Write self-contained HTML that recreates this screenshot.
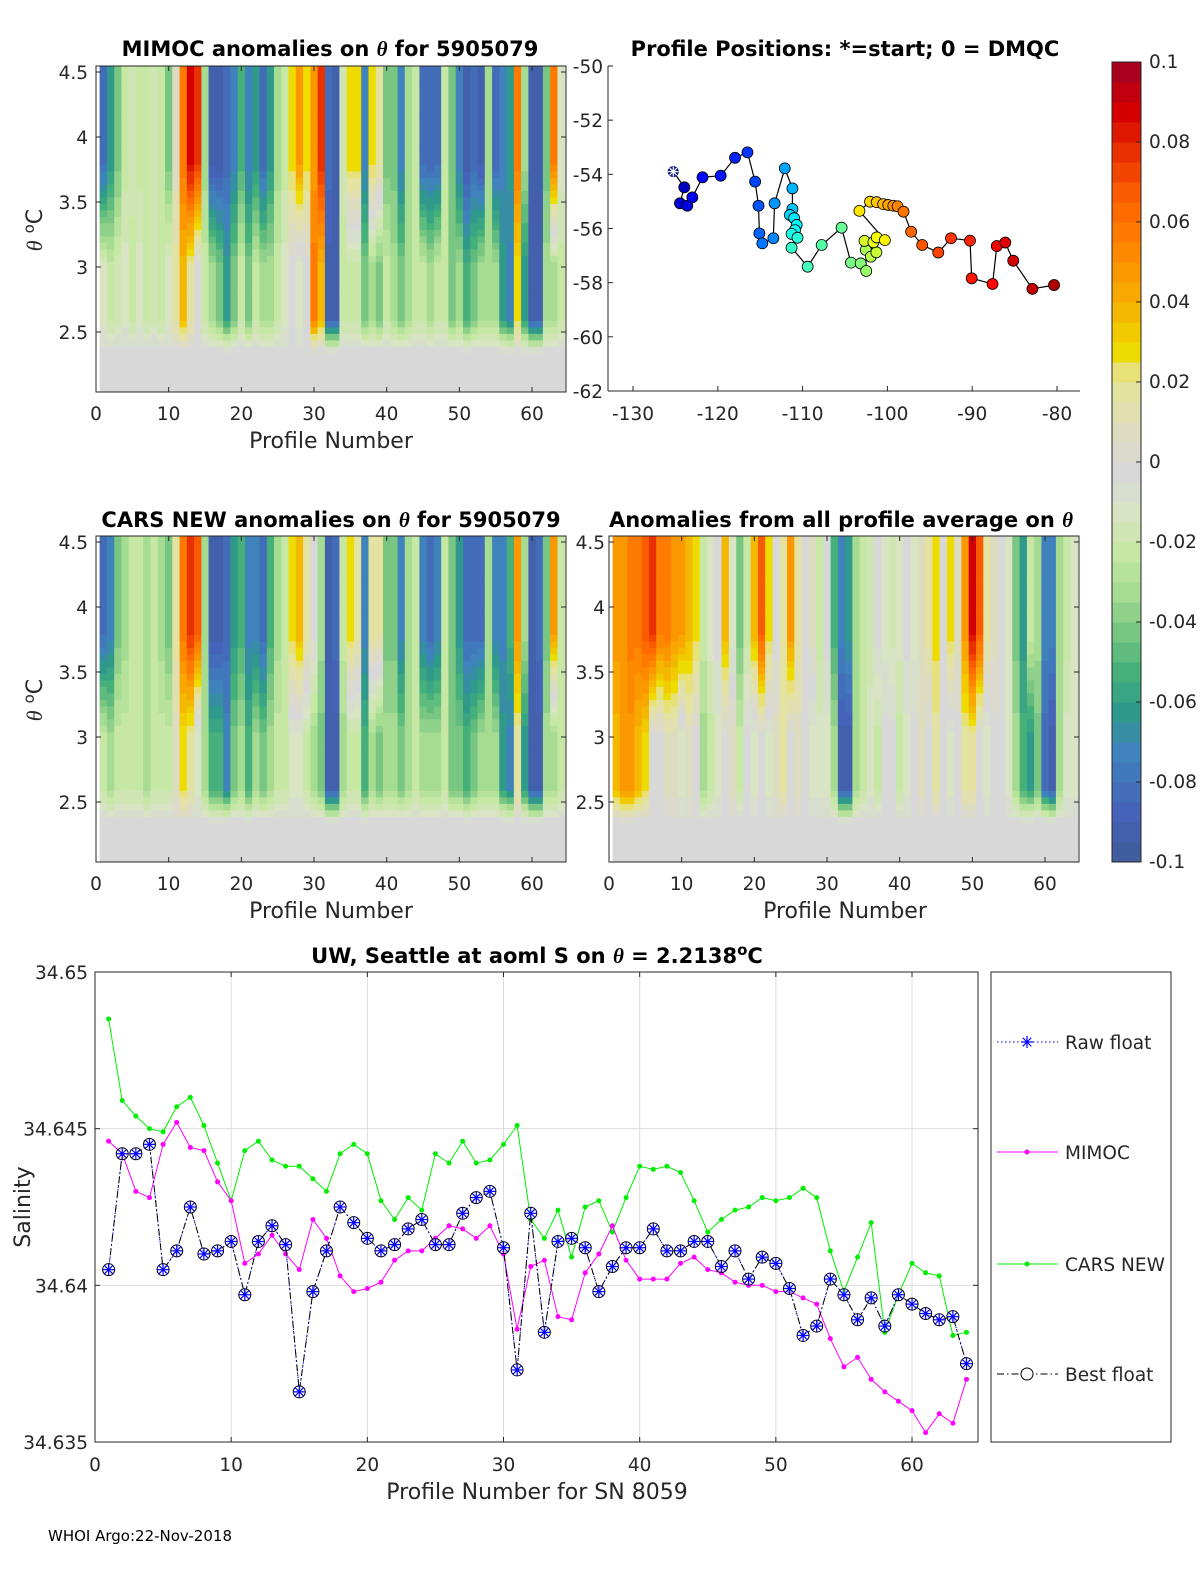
<!DOCTYPE html>
<html><head><meta charset="utf-8"><style>
body{margin:0;background:#fff;}
svg{display:block;font-family:"DejaVu Sans","Liberation Sans",sans-serif;}
.t{font-size:18.5px;fill:#262626;}
.ttl{font-size:21px;font-weight:bold;fill:#000;}
.lab{font-size:22px;fill:#262626;}
</style></head><body>
<svg id="fig" width="1200" height="1575" viewBox="0 0 1200 1575">
<rect width="1200" height="1575" fill="#fff"/>
<g id="hm1"></g>
<g id="hm2"></g>
<g id="hm3"></g>
<g id="pos"></g>
<g id="cb"></g>
<g id="sal"></g>
<text class="ttl" x="330" y="56" text-anchor="middle">MIMOC anomalies on <tspan font-style="italic" font-family="Liberation Serif">θ</tspan>  for 5905079</text>
<text class="ttl" x="845" y="56" text-anchor="middle">Profile Positions: *=start; 0 = DMQC</text>
<text class="ttl" x="331" y="527" text-anchor="middle">CARS NEW anomalies on <tspan font-style="italic" font-family="Liberation Serif">θ</tspan> for 5905079</text>
<text class="ttl" x="841" y="527" text-anchor="middle">Anomalies from all profile average on <tspan font-style="italic" font-family="Liberation Serif">θ</tspan></text>
<text class="ttl" x="537" y="963" text-anchor="middle">UW, Seattle at aoml S on <tspan font-style="italic" font-family="Liberation Serif">θ</tspan> = 2.2138<tspan dy="-8" font-size="15">o</tspan><tspan dy="8">C</tspan></text>
<text class="lab" x="331" y="448" text-anchor="middle">Profile Number</text>
<text class="lab" x="331" y="918" text-anchor="middle">Profile Number</text>
<text class="lab" x="845" y="918" text-anchor="middle">Profile Number</text>
<text class="lab" x="537" y="1499" text-anchor="middle">Profile Number for SN 8059</text>
<text class="lab" transform="translate(42,230) rotate(-90)" text-anchor="middle"><tspan font-style="italic" font-family="Liberation Serif">θ</tspan> <tspan dy="-8" font-size="15">o</tspan><tspan dy="8">C</tspan></text>
<text class="lab" transform="translate(42,700) rotate(-90)" text-anchor="middle"><tspan font-style="italic" font-family="Liberation Serif">θ</tspan> <tspan dy="-8" font-size="15">o</tspan><tspan dy="8">C</tspan></text>
<text class="lab" transform="translate(30,1207) rotate(-90)" text-anchor="middle">Salinity</text>
<text x="48" y="1541" font-size="15" fill="#000">WHOI Argo:22-Nov-2018</text>
</svg>
<script>
// ===== heatmap data (anomaly per profile, upper θ>3.8 and mid θ 2.6-3.0) =====
const mimocUpper=[-0.08,-0.06,-0.04,-0.02,-0.015,-0.02,-0.02,-0.015,-0.02,-0.04,0.01,0.06,0.09,0.08,-0.03,-0.09,-0.09,-0.08,-0.07,-0.05,-0.07,-0.06,-0.08,-0.06,-0.03,-0.02,0.03,0.05,0.03,0.05,0.08,-0.08,-0.09,-0.015,0.03,0.03,-0.07,0.03,0.02,-0.04,-0.04,-0.07,-0.03,-0.02,-0.08,-0.08,-0.08,-0.02,-0.04,-0.07,-0.09,-0.08,-0.09,-0.03,-0.08,-0.07,-0.06,0.06,-0.03,-0.09,-0.09,-0.04,0.06,-0.01];
const mimocMid=[-0.01,-0.02,-0.015,-0.01,-0.02,-0.01,-0.02,-0.015,-0.02,-0.01,0.02,0.04,0.02,0.0,-0.02,-0.03,-0.04,-0.06,-0.04,-0.02,-0.04,-0.02,-0.03,-0.03,-0.02,-0.01,0.0,-0.01,0.0,0.06,0.04,-0.09,-0.09,-0.02,-0.02,-0.02,-0.04,-0.03,-0.04,-0.02,-0.03,-0.04,-0.03,-0.02,-0.02,-0.03,-0.02,-0.02,-0.04,-0.03,-0.05,-0.04,-0.03,-0.03,-0.03,-0.06,-0.07,0.03,-0.06,-0.09,-0.09,-0.03,-0.03,-0.02];
const carsUpper=[-0.08,-0.07,-0.04,-0.03,-0.02,-0.02,-0.03,-0.02,-0.03,-0.04,0.02,0.06,0.08,0.07,-0.03,-0.09,-0.09,-0.08,-0.06,-0.05,-0.07,-0.07,-0.08,-0.05,-0.03,-0.02,0.03,0.04,0.02,0.0,-0.03,-0.09,-0.08,-0.02,0.03,0.02,-0.07,0.02,0.02,-0.04,-0.04,-0.07,-0.03,-0.02,-0.07,-0.08,-0.07,-0.02,-0.04,-0.06,-0.08,-0.08,-0.08,-0.03,-0.07,-0.07,-0.05,0.05,-0.03,-0.09,-0.08,-0.04,0.05,-0.02];
const carsMid=[-0.02,-0.03,-0.02,-0.02,-0.02,-0.02,-0.03,-0.02,-0.02,-0.02,0.01,0.03,0.02,-0.01,-0.03,-0.05,-0.05,-0.07,-0.04,-0.03,-0.05,-0.03,-0.04,-0.03,-0.02,-0.02,-0.01,-0.01,-0.02,-0.03,-0.04,-0.09,-0.09,-0.03,-0.02,-0.02,-0.05,-0.03,-0.04,-0.03,-0.03,-0.04,-0.03,-0.02,-0.03,-0.03,-0.03,-0.02,-0.04,-0.04,-0.05,-0.04,-0.03,-0.03,-0.03,-0.06,-0.07,0.02,-0.06,-0.09,-0.09,-0.03,-0.03,-0.02];
const avgUpper=[0.05,0.05,0.06,0.06,0.07,0.08,0.06,0.06,0.05,0.05,0.04,0.03,-0.02,-0.01,0.0,0.04,-0.01,-0.04,-0.02,0.04,0.07,0.03,0.0,0.02,0.05,0.02,0.0,0.01,-0.02,0.0,-0.05,-0.07,-0.06,-0.03,-0.02,-0.015,0.0,-0.01,-0.015,-0.01,0.0,-0.01,0.01,0.02,0.03,0.0,0.03,0.01,0.05,0.09,0.07,0.02,0.01,0.0,-0.01,-0.04,-0.06,-0.02,-0.03,-0.07,-0.07,-0.03,-0.02,-0.01];
const avgMid=[0.04,0.05,0.05,0.04,0.03,0.0,0.0,0.01,0.01,-0.01,0.01,0.0,-0.03,-0.02,-0.01,0.0,0.01,-0.02,0.0,-0.01,0.0,-0.01,0.01,0.02,0.0,0.01,0.0,-0.01,-0.01,-0.01,-0.03,-0.09,-0.09,-0.03,-0.02,-0.01,-0.02,0.0,0.0,-0.02,-0.01,0.0,0.01,0.0,0.02,0.0,-0.01,0.0,0.02,0.02,0.0,-0.01,0.0,0.0,-0.01,-0.03,-0.05,-0.06,-0.04,-0.08,-0.09,-0.03,-0.01,-0.01];
const thetaTicks=[2.5,3,3.5,4,4.5];
const profileTicks=[0,10,20,30,40,50,60];
// ===== positions =====
const lon=[-125.25,-123.95,-124.46,-123.6,-123.0,-121.8,-119.66,-117.97,-116.5,-115.6,-115.2,-115.1,-114.75,-113.45,-113.3,-112.1,-111.2,-111.2,-111.5,-111.0,-110.7,-110.9,-111.3,-110.6,-111.3,-109.4,-107.75,-105.4,-104.3,-103.15,-102.5,-102.55,-101.95,-101.3,-102.7,-101.65,-101.26,-100.3,-103.3,-102.05,-101.26,-100.5,-99.9,-99.3,-98.8,-98.1,-97.2,-95.9,-94.0,-92.5,-90.26,-90.06,-87.6,-87.1,-86.1,-85.16,-82.9,-80.35];
const lat=[-53.9,-54.48,-55.07,-55.16,-54.85,-54.11,-54.05,-53.39,-53.19,-54.27,-55.16,-56.18,-56.55,-56.36,-55.07,-53.78,-54.52,-55.28,-55.5,-55.62,-55.87,-56.06,-56.2,-56.34,-56.71,-57.41,-56.61,-55.97,-57.26,-57.29,-57.57,-56.79,-57.04,-56.88,-56.46,-56.51,-56.33,-56.43,-55.35,-55.01,-55.03,-55.1,-55.13,-55.16,-55.18,-55.38,-56.12,-56.61,-56.89,-56.36,-56.45,-57.84,-58.05,-56.65,-56.52,-57.19,-58.23,-58.09];
const lonTicks=[-130,-120,-110,-100,-90,-80];
const latTicks=[-50,-52,-54,-56,-58,-60,-62];
// ===== salinity =====
const bestFloat=[34.6405,34.6442,34.6442,34.6445,34.6405,34.6411,34.6425,34.6410,34.6411,34.6414,34.6397,34.6414,34.6419,34.6413,34.6366,34.6398,34.6411,34.6425,34.6420,34.6415,34.6411,34.6413,34.6418,34.6421,34.6413,34.6413,34.6423,34.6428,34.6430,34.6412,34.6373,34.6423,34.6385,34.6414,34.6415,34.6412,34.6398,34.6406,34.6412,34.6412,34.6418,34.6411,34.6411,34.6414,34.6414,34.6406,34.6411,34.6402,34.6409,34.6407,34.6399,34.6384,34.6387,34.6402,34.6397,34.6389,34.6396,34.6387,34.6397,34.6394,34.6391,34.6389,34.6390,34.6375];
const rawFloat=[34.6405,34.6442,34.6442,34.6445,34.6405,34.6411,34.6425,34.6410,34.6411,34.6414,34.6397,34.6414,34.6419,34.6413,34.6366,34.6398,34.6411,34.6425,34.6420,34.6415,34.6411,34.6413,34.6418,34.6421,34.6413,34.6413,34.6423,34.6428,34.6430,34.6412,34.6373,34.6423,34.6385,34.6414,34.6415,34.6412,34.6398,34.6406,34.6412,34.6412,34.6418,34.6411,34.6411,34.6414,34.6414,34.6406,34.6411,34.6402,34.6409,34.6407,34.6399,34.6384,34.6387,34.6402,34.6397,34.6389,34.6396,34.6387,34.6397,34.6394,34.6391,34.6389,34.6390,34.6375];
const mimocSal=[34.6446,34.6442,34.6430,34.6428,34.6445,34.6452,34.6444,34.6443,34.6433,34.6427,34.6407,34.6410,34.6416,34.6410,34.6405,34.6421,34.6415,34.6403,34.6398,34.6399,34.6401,34.6408,34.6411,34.6411,34.6415,34.6419,34.6418,34.6415,34.6419,34.6410,34.6386,34.6406,34.6408,34.6390,34.6389,34.6404,34.6410,34.6419,34.6408,34.6402,34.6402,34.6402,34.6407,34.6409,34.6405,34.6404,34.6401,34.6400,34.6400,34.6398,34.6398,34.6396,34.6394,34.6383,34.6374,34.6377,34.6370,34.6366,34.6363,34.6360,34.6353,34.6359,34.6356,34.6370];
const carsSal=[34.6485,34.6459,34.6454,34.6450,34.6449,34.6457,34.6460,34.6451,34.6439,34.6427,34.6443,34.6446,34.6440,34.6438,34.6438,34.6434,34.6430,34.6442,34.6445,34.6442,34.6427,34.6421,34.6428,34.6424,34.6442,34.6439,34.6446,34.6439,34.6440,34.6445,34.6451,34.6421,34.6415,34.6424,34.6409,34.6425,34.6427,34.6417,34.6428,34.6438,34.6437,34.6438,34.6436,34.6427,34.6417,34.6421,34.6424,34.6425,34.6428,34.6427,34.6428,34.6431,34.6428,34.6411,34.6398,34.6409,34.6420,34.6385,34.6397,34.6407,34.6404,34.6403,34.6384,34.6385];
const salTicks=[34.635,34.64,34.645,34.65];
const salTickLabels=['34.635','34.64','34.645','34.65'];
const salXTicks=[0,10,20,30,40,50,60];
const cbTicks=[-0.1,-0.08,-0.06,-0.04,-0.02,0,0.02,0.04,0.06,0.08,0.1];
const cbTickLabels=['-0.1','-0.08','-0.06','-0.04','-0.02','0','0.02','0.04','0.06','0.08','0.1'];

const NS='http://www.w3.org/2000/svg';
function mk(tag,attrs,parent){const e=document.createElementNS(NS,tag);for(const k in attrs)e.setAttribute(k,attrs[k]);parent.appendChild(e);return e;}
const stops=[[-0.1,[61,90,146]],[-0.085,[69,99,184]],[-0.07,[63,130,188]],[-0.06,[47,154,140]],[-0.05,[69,176,122]],[-0.04,[120,198,130]],[-0.03,[166,219,146]],[-0.02,[198,232,164]],[-0.01,[216,228,196]],[0,[216,216,216]],[0.01,[222,220,192]],[0.02,[228,226,160]],[0.028,[232,224,96]],[0.03,[238,220,0]],[0.04,[244,184,0]],[0.05,[251,152,0]],[0.06,[255,122,0]],[0.07,[250,90,0]],[0.08,[232,48,0]],[0.09,[212,0,0]],[0.1,[168,0,30]]];
function cmap(v){v=Math.max(-0.1,Math.min(0.1,v));v=Math.round(v/0.005)*0.005;for(let i=1;i<stops.length;i++){if(v<=stops[i][0]+1e-9){const a=stops[i-1],b=stops[i];const f=(v-a[0])/(b[0]-a[0]);const c=a[1].map((x,j)=>Math.round(x+(b[1][j]-x)*f));return 'rgb('+c.join(',')+')';}}return 'rgb(168,0,30)';}
function jet(f){const r=Math.max(0,Math.min(1,1.5-Math.abs(4*f-3))),g=Math.max(0,Math.min(1,1.5-Math.abs(4*f-2))),b=Math.max(0,Math.min(1,1.5-Math.abs(4*f-1)));return 'rgb('+[r,g,b].map(x=>Math.round(x*255)).join(',')+')';}

function heatmap(gid,x0,top,up,mid,rightLabels){
  const g=document.getElementById(gid);
  const W=470,H=326;
  const xs=p=>x0+p*7.267;
  const ys=t=>top+6+(4.5-t)*130;
  const tTop=4.5+6/130, tBot=4.5-(H-6)/130;
  for(let i=0;i<up.length;i++){
    const p=i+1;
    for(let t=tBot;t<tTop-1e-6;t+=0.05){
      let u=up[i],m=mid[i],v;
      const tc=t+0.025;
      if(tc>=3.8)v=u;else if(tc>=3.0)v=m+(u-m)*(tc-3.0)/0.8;else if(tc>=2.6)v=m;else v=m*Math.max(0,(tc-2.35)/0.25);
      const x1=Math.max(x0,xs(p-0.5)),x2=Math.min(x0+W,xs(p+0.5));
      const y1=Math.max(top,ys(t+0.05)),y2=Math.min(top+H,ys(t));
      const r=mk('rect',{x:x1.toFixed(1),y:y1.toFixed(1),width:(x2-x1+0.4).toFixed(1),height:(y2-y1+0.4).toFixed(1),fill:cmap(v)},g);
      
      
    }
  }
  const box=mk('rect',{x:x0,y:top,width:W,height:H,fill:'none',stroke:'#262626','stroke-width':1},g);
  
  
  thetaTicks.forEach(t=>{
    const y=ys(t);
    mk('line',{x1:x0,x2:x0+5,y1:y,y2:y,stroke:'#262626'},g);
    mk('line',{x1:x0+W,x2:x0+W-5,y1:y,y2:y,stroke:'#262626'},g);
    const tx=mk('text',{x:rightLabels?x0-4:x0-8,y:y+7,'text-anchor':'end',class:'t'},g);
    tx.textContent=String(t);
    
    
  });
  profileTicks.forEach(p=>{
    const x=xs(p);
    mk('line',{x1:x,x2:x,y1:top+H,y2:top+H-5,stroke:'#262626'},g);
    mk('line',{x1:x,x2:x,y1:top,y2:top+5,stroke:'#262626'},g);
    const tx=mk('text',{x:x,y:top+H+28,'text-anchor':'middle',class:'t'},g);
    tx.textContent=String(p);
    
    
  });
}
heatmap('hm1',96,66,mimocUpper,mimocMid,false);
heatmap('hm2',96,536,carsUpper,carsMid,false);
heatmap('hm3',609,536,avgUpper,avgMid,true);

// positions
(function(){
  const g=document.getElementById('pos');
  const xl=v=>633+(v+130)*8.48, yl=v=>66+(-50-v)*27.08;
  mk('line',{x1:608,x2:1080,y1:391,y2:391,stroke:'#262626'},g);
  mk('line',{x1:608,x2:608,y1:66,y2:391,stroke:'#262626'},g);
  lonTicks.forEach(v=>{const x=xl(v);mk('line',{x1:x,x2:x,y1:391,y2:386,stroke:'#262626'},g);
    const t=mk('text',{x:x,y:420,'text-anchor':'middle',class:'t'},g);t.textContent=String(v);
    
    });
  latTicks.forEach(v=>{const y=yl(v);mk('line',{x1:608,x2:613,y1:y,y2:y,stroke:'#262626'},g);
    const t=mk('text',{x:603,y:y+7,'text-anchor':'end',class:'t'},g);t.textContent=String(v);
    
    });
  const pts=lon.map((v,i)=>xl(v).toFixed(1)+','+yl(lat[i]).toFixed(1)).join(' ');
  const pl=mk('polyline',{points:pts,fill:'none',stroke:'#000','stroke-width':1.2},g);
  
  
  for(let i=1;i<lon.length;i++){
    const c=mk('circle',{cx:xl(lon[i]),cy:yl(lat[i]),r:5.5,fill:jet(0.05+0.9*i/(lon.length-1)),stroke:'#000','stroke-width':0.8},g);
    
    
  }
  const sx=xl(lon[0]),sy=yl(lat[0]);
  mk('circle',{cx:sx,cy:sy,r:5.5,fill:'#0a1a8a'},g);
  for(let a=0;a<4;a++){const an=a*Math.PI/4;mk('line',{x1:sx-5*Math.cos(an),y1:sy-5*Math.sin(an),x2:sx+5*Math.cos(an),y2:sy+5*Math.sin(an),stroke:'#fff','stroke-width':1.2},g);}
})();

// colorbar
(function(){
  const g=document.getElementById('cb');
  const yv=v=>862-(v+0.1)/0.2*800;
  for(let v=-0.1;v<0.0999;v+=0.005){
    const r=mk('rect',{x:1112,y:yv(v+0.005),width:29,height:800*0.005/0.2+0.5,fill:cmap(v+0.0025)},g);
    
    
  }
  mk('rect',{x:1112,y:62,width:29,height:800,fill:'none',stroke:'#262626'},g);
  cbTicks.forEach((v,i)=>{const y=yv(v);mk('line',{x1:1141,x2:1136,y1:y,y2:y,stroke:'#262626'},g);
    const t=mk('text',{x:1149,y:y+6,class:'t'},g);t.textContent=cbTickLabels[i];
    
    });
})();

// salinity chart
(function(){
  const g=document.getElementById('sal');
  const xs=p=>95+p*13.617, ys=s=>972+(34.65-s)*31333;
  salXTicks.forEach(p=>{if(p>0)mk('line',{x1:xs(p),x2:xs(p),y1:972,y2:1442,stroke:'#dcdcdc'},g);});
  salTicks.forEach(s=>{mk('line',{x1:95,x2:978,y1:ys(s),y2:ys(s),stroke:'#dcdcdc'},g);});
  mk('rect',{x:95,y:972,width:883,height:470,fill:'none',stroke:'#262626'},g);
  salXTicks.forEach(p=>{const x=xs(p);mk('line',{x1:x,x2:x,y1:1442,y2:1437,stroke:'#262626'},g);mk('line',{x1:x,x2:x,y1:972,y2:977,stroke:'#262626'},g);
    const t=mk('text',{x:x,y:1471,'text-anchor':'middle',class:'t'},g);t.textContent=String(p);
    
    });
  salTicks.forEach((s,i)=>{const y=ys(s);mk('line',{x1:95,x2:100,y1:y,y2:y,stroke:'#262626'},g);mk('line',{x1:978,x2:973,y1:y,y2:y,stroke:'#262626'},g);
    const t=mk('text',{x:88,y:y+7,'text-anchor':'end',class:'t'},g);t.textContent=salTickLabels[i];
    
    });
  function line(arr,color,dash,name){const pts=arr.map((v,i)=>xs(i+1).toFixed(1)+','+ys(v).toFixed(1)).join(' ');
    const l=mk('polyline',{points:pts,fill:'none',stroke:color,'stroke-width':1,'stroke-dasharray':dash},g);
    
    }
  line(carsSal,'#00ee00','','cars-line');
  carsSal.forEach((v,i)=>{const c=mk('circle',{cx:xs(i+1),cy:ys(v),r:2.5,fill:'#00ee00'},g);
    
    });
  line(mimocSal,'#ff00ff','','mimoc-line');
  mimocSal.forEach((v,i)=>{const c=mk('circle',{cx:xs(i+1),cy:ys(v),r:2.5,fill:'#ff00ff'},g);
    
    });
  line(rawFloat,'#0000ff','1.5,2.5','raw-float-line');
  line(bestFloat,'#000','7,3,1.5,3','best-float-line');
  function star(x,y,s,parent){for(let a=0;a<4;a++){const an=a*Math.PI/4;mk('line',{x1:x-s*Math.cos(an),y1:y-s*Math.sin(an),x2:x+s*Math.cos(an),y2:y+s*Math.sin(an),stroke:'#0000ff','stroke-width':1.2},parent);}}
  bestFloat.forEach((v,i)=>{const x=xs(i+1),y=ys(v);
    const c=mk('circle',{cx:x,cy:y,r:6,fill:'#fff','fill-opacity':0.6,stroke:'#000','stroke-width':1},g);
    
    
    star(x,ys(rawFloat[i]),6,g);});
  // legend
  const lg=mk('g',{},g);
  
  
  mk('rect',{x:991,y:972,width:180,height:470,fill:'#fff',stroke:'#262626'},lg);
  const ent=[['Raw float',1042],['MIMOC',1152],['CARS NEW',1264],['Best float',1374]];
  ent.forEach((e,i)=>{const y=e[1];
    const col=['#0000ff','#ff00ff','#00ee00','#000'][i];
    const dash=['1.5,2.5','','','7,3,1.5,3'][i];
    mk('line',{x1:997,x2:1058,y1:y,y2:y,stroke:col,'stroke-dasharray':dash},lg);
    if(i===0)star(1027,y,6,lg);
    if(i===1||i===2)mk('circle',{cx:1027,cy:y,r:2.5,fill:col},lg);
    if(i===3)mk('circle',{cx:1027,cy:y,r:6,fill:'#fff',stroke:'#000'},lg);
    const t=mk('text',{x:1065,y:y+7,class:'t',fill:'#000'},lg);t.textContent=e[0];
    
    });
})();
</script>
</body></html>
